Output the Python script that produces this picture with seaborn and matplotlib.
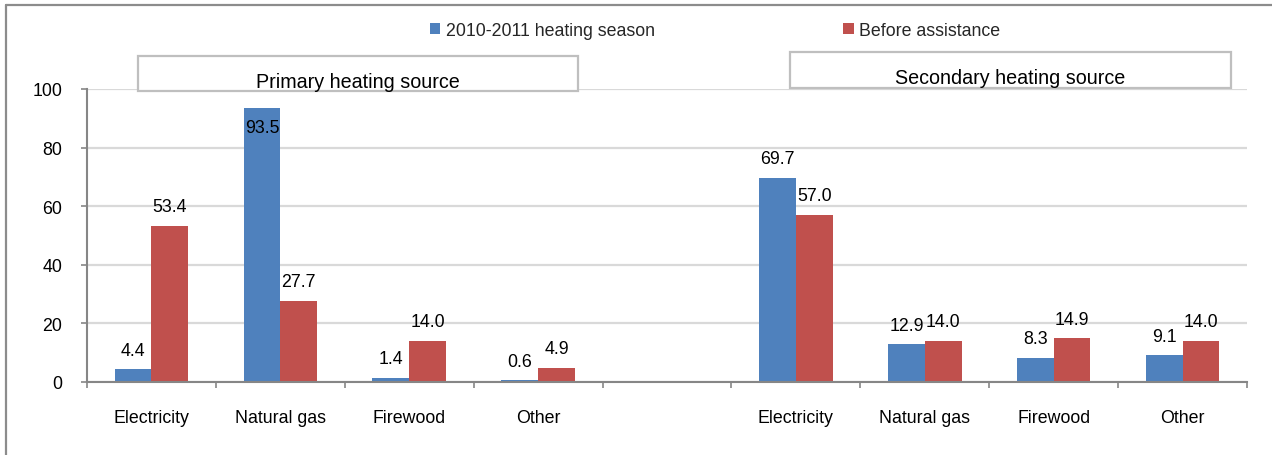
import matplotlib
matplotlib.use("Agg")
import matplotlib.pyplot as plt
from matplotlib.patches import Patch, Rectangle
from matplotlib.lines import Line2D
import seaborn as sns
import pandas as pd

# Heating source categories for each panel
sources = ["Electricity", "Natural gas", "Firewood", "Other"]

# Share of households (%), primary heating source
primary_season = [4.4, 93.5, 1.4, 0.6]
primary_before = [53.4, 27.7, 14.0, 4.9]

# Share of households (%), secondary heating source
secondary_season = [69.7, 12.9, 8.3, 9.1]
secondary_before = [57.0, 14.0, 14.9, 14.0]

series_names = ["2010-2011 heating season", "Before assistance"]
panel_titles = ["Primary heating source", "Secondary heating source"]
y_ticks = [0, 20, 40, 60, 80, 100]

BLUE = "#4F81BD"
RED = "#C0504D"
AXIS_GREY = "#868686"
GRID_GREY = "#D9D9D9"

# Long-form table; each slot is unique so the two panels sit side by side
rows = []
for prefix, season, before in (("P", primary_season, primary_before),
                               ("S", secondary_season, secondary_before)):
    for src, a, b in zip(sources, season, before):
        rows.append({"slot": f"{prefix}:{src}", "series": series_names[0], "value": a})
        rows.append({"slot": f"{prefix}:{src}", "series": series_names[1], "value": b})
df = pd.DataFrame(rows)

slots = [f"P:{s}" for s in sources] + ["gap"] + [f"S:{s}" for s in sources]
slot_labels = sources + [""] + sources

sns.set_theme(style="white")
plt.rcParams["font.family"] = ["Liberation Sans", "DejaVu Sans"]
FS = 12.8
FS_BOX = 14.2

fig = plt.figure(figsize=(12.72, 4.56), dpi=100)
ax = fig.add_axes([87 / 1272, 1 - 383 / 456, 1160 / 1272, 293 / 456])

sns.barplot(data=df, x="slot", y="value", hue="series", order=slots,
            hue_order=series_names, palette=[BLUE, RED], width=0.57,
            saturation=1, errorbar=None, legend=False, ax=ax, linewidth=0,
            zorder=3)

ax.set_xlim(-0.5, len(slots) - 0.5)
ax.set_ylim(0, 100)
ax.set_xlabel("")
ax.set_ylabel("")

# Gridlines and axes
ax.set_yticks(y_ticks)
ax.yaxis.grid(True, color=GRID_GREY, linewidth=1.6, zorder=0)
ax.xaxis.grid(False)
ax.set_axisbelow(True)
for side in ("top", "right"):
    ax.spines[side].set_visible(False)
for side in ("left", "bottom"):
    ax.spines[side].set_color(AXIS_GREY)
    ax.spines[side].set_linewidth(1.5)
    ax.spines[side].set_zorder(4)

ax.tick_params(axis="y", which="major", direction="out", length=4.3, width=1.2,
               color=AXIS_GREY, pad=13.5, labelsize=FS, labelcolor="black", left=True)
ax.set_xticks(range(len(slots)))
ax.set_xticklabels(slot_labels)
ax.set_xticks([i - 0.5 for i in range(len(slots) + 1)], minor=True)
ax.tick_params(axis="x", which="major", length=0, pad=19.5, labelsize=FS,
               labelcolor="black")
ax.tick_params(axis="x", which="minor", direction="out", length=4.3, width=1.2,
               color=AXIS_GREY, bottom=True)

# Value labels above each bar (inside the bar when it reaches the top)
for container in ax.containers:
    for bar in container:
        h = bar.get_height()
        if h != h:
            continue
        off = -13.7 if h > 90 else 13.7
        ax.annotate(f"{h:.1f}", (bar.get_x() + bar.get_width() / 2, h),
                    xytext=(0, off), textcoords="offset points",
                    ha="center", va="center", fontsize=FS, color="black",
                    zorder=5)

# Panel caption boxes
for (x0, x1, y0, y1), title, ty in (((138, 578, 57, 92), panel_titles[0], 82),
                                    ((790, 1231, 53, 89), panel_titles[1], 79)):
    fig.add_artist(Rectangle((x0 / 1272, 1 - y1 / 456), (x1 - x0) / 1272,
                             (y1 - y0) / 456, transform=fig.transFigure,
                             facecolor="white", edgecolor="#BFBFBF",
                             linewidth=1.6, zorder=5))
    fig.text((x0 + x1) / 2 / 1272, 1 - ty / 456, title, ha="center",
             va="center", fontsize=FS_BOX, color="black", zorder=6)

# Legend
handles = [Patch(facecolor=BLUE, edgecolor="none"),
           Patch(facecolor=RED, edgecolor="none")]
fig.legend(handles, series_names, loc="center",
           bbox_to_anchor=(715 / 1272, 1 - 31 / 456), ncol=2, frameon=False,
           fontsize=FS, handlelength=0.6, handleheight=0.6,
           handletextpad=0.3, columnspacing=10.6)

# Outer frame (top and left edges)
fig.add_artist(Line2D([6 / 1272, 6 / 1272], [0, 1 - 6 / 456],
                      transform=fig.transFigure, color="#8C8C8C", linewidth=1.6))
fig.add_artist(Line2D([6 / 1272, 1], [1 - 6 / 456, 1 - 6 / 456],
                      transform=fig.transFigure, color="#8C8C8C", linewidth=1.6))

fig.savefig("out.png", dpi=100, facecolor="white")
